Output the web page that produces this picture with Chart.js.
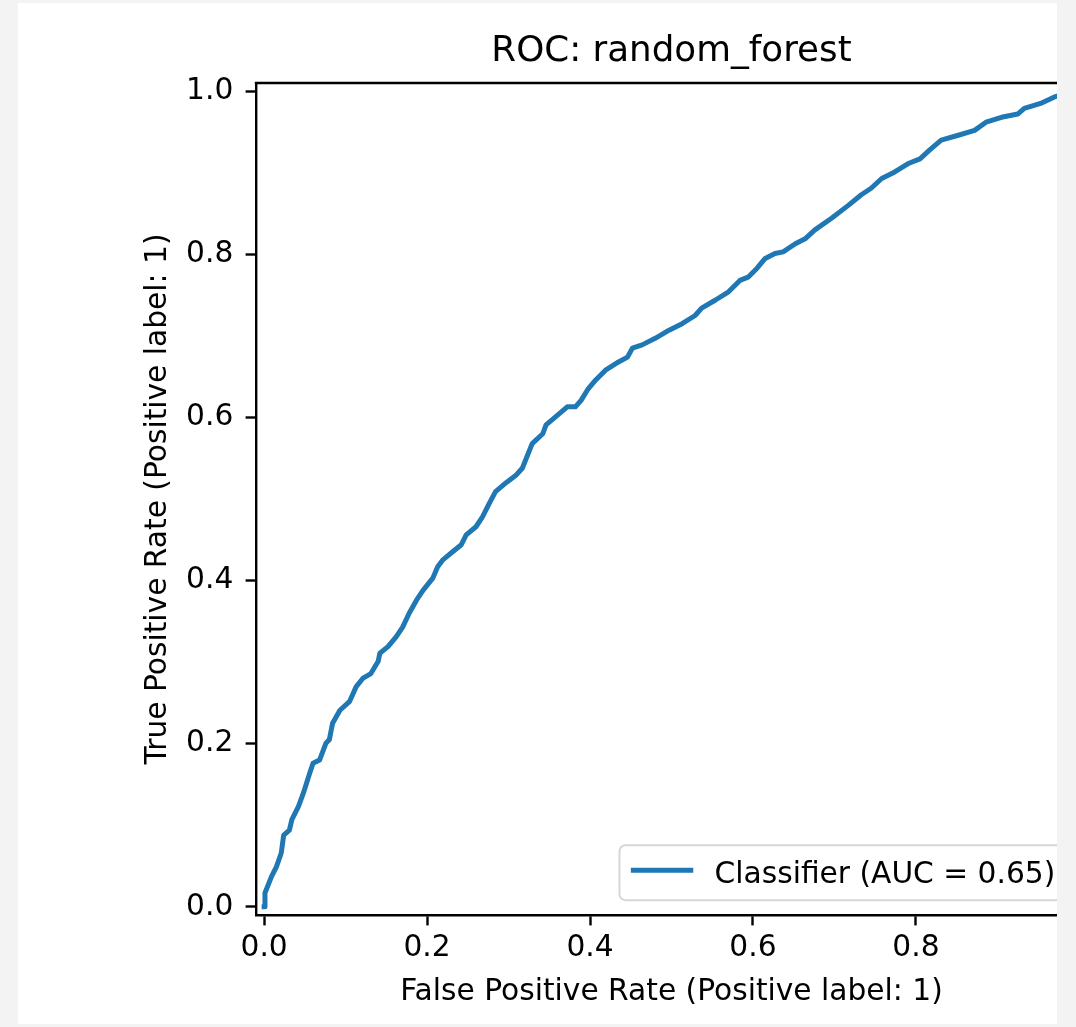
<!DOCTYPE html>
<html>
<head>
<meta charset="utf-8">
<script src="https://cdn.jsdelivr.net/npm/chart.js@4.4.1/dist/chart.umd.min.js"></script>
<style>
  html, body { margin: 0; padding: 0; background: #f3f3f3; }
  body { width: 1076px; height: 1027px; position: relative; overflow: hidden; }
  #panel { position: absolute; left: 18px; top: 3px; width: 1039px; height: 1021px; background: #fff; overflow: hidden; }
  #wrap { position: absolute; left: -18px; top: -3px; }
</style>
</head>
<body>
<div id="panel"><div id="wrap"><canvas id="roc" width="1120" height="1027"></canvas></div></div>
<script>
// ROC curve (false positive rate / true positive rate)
const fpr = [
  0.000, 0.001, 0.009, 0.015, 0.021, 0.024, 0.031, 0.034, 0.042, 0.048,
  0.056, 0.060, 0.068, 0.076, 0.080, 0.084, 0.093, 0.105, 0.113, 0.121,
  0.131, 0.140, 0.142, 0.152, 0.162, 0.170, 0.178, 0.187, 0.195, 0.207,
  0.213, 0.219, 0.231, 0.242, 0.248, 0.260, 0.268, 0.276, 0.284, 0.297,
  0.309, 0.317, 0.329, 0.342, 0.346, 0.358, 0.372, 0.382, 0.389, 0.397,
  0.407, 0.419, 0.435, 0.446, 0.452, 0.464, 0.480, 0.497, 0.513, 0.529,
  0.537, 0.554, 0.570, 0.584, 0.594, 0.605, 0.615, 0.627, 0.637, 0.652,
  0.664, 0.676, 0.696, 0.717, 0.733, 0.745, 0.758, 0.774, 0.790, 0.805,
  0.817, 0.831, 0.852, 0.872, 0.886, 0.905, 0.925, 0.933, 0.953, 0.970,
  0.985, 1.000
];
const tpr = [
  0.000, 0.017, 0.037, 0.049, 0.066, 0.088, 0.094, 0.107, 0.123, 0.139,
  0.164, 0.176, 0.180, 0.201, 0.205, 0.225, 0.241, 0.252, 0.270, 0.280,
  0.286, 0.301, 0.311, 0.319, 0.331, 0.343, 0.360, 0.376, 0.388, 0.403,
  0.417, 0.425, 0.435, 0.444, 0.456, 0.466, 0.478, 0.494, 0.509, 0.520,
  0.529, 0.538, 0.568, 0.580, 0.591, 0.601, 0.613, 0.613, 0.621, 0.634,
  0.646, 0.658, 0.668, 0.674, 0.685, 0.689, 0.697, 0.707, 0.715, 0.725,
  0.734, 0.744, 0.754, 0.768, 0.772, 0.783, 0.795, 0.801, 0.803, 0.813,
  0.819, 0.830, 0.844, 0.860, 0.873, 0.881, 0.893, 0.901, 0.911, 0.917,
  0.928, 0.940, 0.946, 0.952, 0.962, 0.968, 0.972, 0.979, 0.985, 0.993,
  0.997, 1.000
];
const tickValues = [0, 0.2, 0.4, 0.6, 0.8, 1.0];
const chartTitle = 'ROC: random_forest';
const xLabel = 'False Positive Rate (Positive label: 1)';
const yLabel = 'True Positive Rate (Positive label: 1)';
const seriesLabel = 'Classifier (AUC = 0.65)';

const FONT = "'DejaVu Sans', sans-serif";
const FS = 29.7; // 10pt at the figure's dpi

const points = fpr.map((x, i) => ({ x: x, y: tpr[i] }));

// top and right spines (chart.js draws left/bottom as axis borders)
const frame = {
  id: 'frame',
  afterDatasetsDraw(chart) {
    const { ctx, chartArea: a } = chart;
    ctx.save();
    ctx.strokeStyle = '#000';
    ctx.lineWidth = 2.4;
    ctx.lineCap = 'square';
    ctx.beginPath();
    ctx.moveTo(a.left, a.top);
    ctx.lineTo(a.right, a.top);
    ctx.lineTo(a.right, a.bottom);
    ctx.stroke();
    ctx.restore();
  }
};

// matplotlib-style legend in the lower right corner
const legendBox = {
  id: 'legendBox',
  afterDraw(chart) {
    const { ctx, chartArea: a } = chart;
    const ds = chart.data.datasets[0];
    ctx.save();
    ctx.font = FS + 'px ' + FONT;
    const textW = ctx.measureText(ds.label).width;
    const w = 0.4 * FS + 2 * FS + 0.8 * FS + textW + 0.4 * FS + 5;
    const h = 1.85 * FS;
    const right = a.right - 0.5 * FS;
    const bottom = a.bottom - 0.5 * FS;
    const left = right - w;
    const top = bottom - h;

    ctx.beginPath();
    ctx.roundRect(left, top, w, h, 0.2 * FS);
    ctx.fillStyle = 'rgba(255,255,255,0.8)';
    ctx.fill();
    ctx.lineWidth = 2;
    ctx.strokeStyle = 'rgba(204,204,204,0.8)';
    ctx.stroke();

    const lineY = top + 0.84 * FS;
    const hx = left + 0.4 * FS;
    ctx.beginPath();
    ctx.moveTo(hx + 2, lineY);
    ctx.lineTo(hx + 2 * FS, lineY);
    ctx.strokeStyle = ds.borderColor;
    ctx.lineWidth = ds.borderWidth;
    ctx.lineCap = 'square';
    ctx.stroke();

    ctx.fillStyle = '#000';
    ctx.textBaseline = 'alphabetic';
    ctx.textAlign = 'left';
    ctx.fillText(ds.label, hx + 2.8 * FS, top + 1.26 * FS);
    ctx.restore();
  }
};

const axisCommon = {
  type: 'linear',
  min: -0.01,
  max: 1.01,
  border: { display: true, color: '#000', width: 2.4 },
  grid: { drawOnChartArea: false, drawTicks: true, tickLength: 10.4, tickWidth: 2.4, tickColor: '#000' }
};

new Chart(document.getElementById('roc').getContext('2d'), {
  type: 'scatter',
  data: {
    datasets: [{
      label: seriesLabel,
      data: points,
      showLine: true,
      borderColor: '#1f77b4',
      backgroundColor: '#1f77b4',
      borderWidth: 5,
      pointRadius: 0,
      pointHoverRadius: 0,
      tension: 0,
      borderJoinStyle: 'round',
      borderCapStyle: 'square',
      fill: false
    }]
  },
  options: {
    responsive: false,
    animation: false,
    events: [],
    layout: { padding: { left: 0, right: 33, top: 0, bottom: 0 } },
    plugins: {
      legend: { display: false },
      tooltip: { enabled: false },
      title: {
        display: true,
        text: chartTitle,
        fullSize: false,
        color: '#000',
        font: { family: FONT, size: 35.7, weight: 'normal' },
        padding: { top: 30.6, bottom: 9.6 }
      }
    },
    scales: {
      x: {
        ...axisCommon,
        position: 'bottom',
        afterFit: (s) => { s.height = 112; },
        afterBuildTicks: (s) => { s.ticks = tickValues.map(v => ({ value: v })); },
        ticks: {
          padding: 5,
          color: '#000',
          maxRotation: 0,
          autoSkip: false,
          font: { family: FONT, size: FS },
          callback: (v) => Number(v).toFixed(1)
        },
        title: {
          display: true,
          text: xLabel,
          color: '#000',
          font: { family: FONT, size: FS },
          padding: { top: 0, bottom: 17 }
        }
      },
      y: {
        ...axisCommon,
        position: 'left',
        afterFit: (s) => { s.width = 256; },
        afterBuildTicks: (s) => { s.ticks = tickValues.map(v => ({ value: v })); },
        ticks: {
          padding: 12.3,
          color: '#000',
          autoSkip: false,
          font: { family: FONT, size: FS },
          callback: (v) => Number(v).toFixed(1)
        },
        title: {
          display: true,
          text: yLabel,
          color: '#000',
          font: { family: FONT, size: FS },
          padding: { top: 140, bottom: 0 }
        }
      }
    }
  },
  plugins: [frame, legendBox]
});
</script>
</body>
</html>
